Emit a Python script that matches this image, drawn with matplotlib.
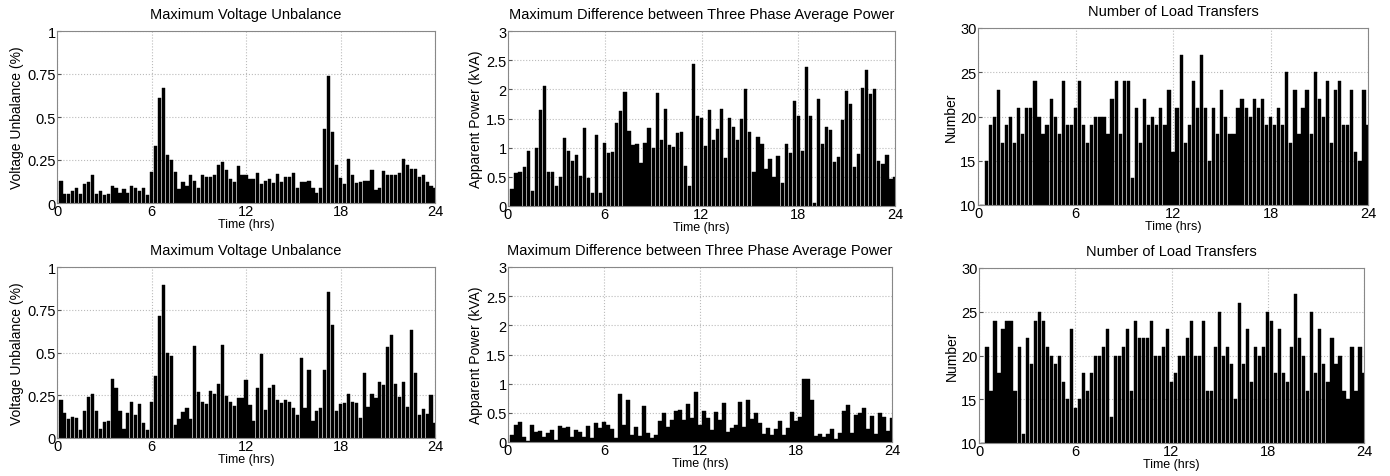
import numpy as np
from matplotlib import pyplot as plt

plt.rcParams['font.family'] = ['Liberation Sans', 'DejaVu Sans']

# 15-minute intervals over one day (96 values per panel)
hours = np.arange(1, 97) * 0.25

# top row
vu_top = [0.13, 0.05, 0.055, 0.07, 0.09, 0.055, 0.11, 0.12, 0.165, 0.055, 0.07, 0.045,
          0.05, 0.10, 0.09, 0.06, 0.08, 0.06, 0.10, 0.09, 0.07, 0.09, 0.045, 0.18,
          0.33, 0.61, 0.67, 0.28, 0.25, 0.18, 0.08, 0.12, 0.10, 0.16, 0.13, 0.09,
          0.16, 0.15, 0.15, 0.165, 0.22, 0.24, 0.19, 0.14, 0.12, 0.215, 0.16, 0.16,
          0.14, 0.14, 0.175, 0.11, 0.13, 0.14, 0.115, 0.17, 0.12, 0.15, 0.15, 0.175,
          0.09, 0.125, 0.12, 0.13, 0.09, 0.06, 0.09, 0.43, 0.74, 0.41, 0.22, 0.145,
          0.11, 0.255, 0.16, 0.115, 0.12, 0.13, 0.13, 0.19, 0.075, 0.09, 0.185, 0.165,
          0.16, 0.165, 0.175, 0.255, 0.22, 0.20, 0.20, 0.15, 0.16, 0.12, 0.10, 0.09]
pw_top = [0.30, 0.57, 0.58, 0.67, 0.94, 0.26, 1.00, 1.65, 2.05, 0.58, 0.58, 0.34,
          0.50, 1.16, 0.94, 0.77, 0.88, 0.51, 1.33, 0.48, 0.22, 1.22, 0.22, 1.08,
          0.91, 0.92, 1.43, 1.63, 1.95, 1.28, 1.05, 1.06, 0.73, 1.08, 1.34, 1.00,
          1.93, 1.14, 1.66, 1.04, 1.02, 1.26, 1.27, 0.69, 0.35, 2.43, 1.55, 1.51,
          1.03, 1.65, 1.14, 1.32, 1.67, 0.82, 1.51, 1.35, 1.13, 1.50, 2.00, 1.27,
          0.58, 1.19, 1.06, 0.63, 0.81, 0.50, 0.85, 0.40, 1.06, 0.91, 1.80, 1.54,
          0.95, 2.38, 1.55, 0.05, 1.83, 1.06, 1.35, 1.31, 0.76, 0.84, 1.47, 1.98,
          1.75, 0.67, 0.90, 2.02, 2.33, 1.92, 2.00, 0.77, 0.72, 0.87, 0.46, 0.49]
lt_top = [10, 15, 19, 20, 23, 17, 19, 20, 17, 21, 18, 21,
          21, 24, 20, 18, 19, 22, 20, 18, 24, 19, 19, 21,
          24, 19, 17, 19, 20, 20, 20, 18, 22, 24, 18, 24,
          24, 13, 21, 17, 22, 19, 20, 19, 21, 19, 23, 16,
          21, 27, 17, 19, 24, 21, 27, 21, 15, 21, 18, 23,
          20, 18, 18, 21, 22, 21, 20, 22, 21, 22, 19, 20,
          19, 21, 19, 25, 17, 23, 18, 21, 23, 18, 25, 22,
          20, 24, 17, 23, 24, 19, 19, 23, 16, 15, 23, 19]

# bottom row
vu_bot = [0.225, 0.145, 0.11, 0.125, 0.115, 0.045, 0.155, 0.24, 0.26, 0.16, 0.05, 0.095,
          0.10, 0.345, 0.29, 0.155, 0.055, 0.145, 0.21, 0.135, 0.20, 0.085, 0.045, 0.21,
          0.365, 0.715, 0.895, 0.495, 0.48, 0.075, 0.11, 0.15, 0.175, 0.11, 0.54, 0.27,
          0.21, 0.20, 0.275, 0.26, 0.315, 0.545, 0.245, 0.21, 0.185, 0.235, 0.235, 0.34,
          0.195, 0.10, 0.29, 0.49, 0.165, 0.295, 0.31, 0.225, 0.205, 0.225, 0.21, 0.175,
          0.135, 0.465, 0.175, 0.395, 0.10, 0.155, 0.175, 0.40, 0.855, 0.66, 0.155, 0.20,
          0.205, 0.255, 0.21, 0.205, 0.115, 0.38, 0.18, 0.255, 0.235, 0.33, 0.31, 0.53,
          0.60, 0.315, 0.24, 0.33, 0.18, 0.63, 0.38, 0.135, 0.17, 0.14, 0.25, 0.09]
pw_bot = [0.12, 0.29, 0.34, 0.08, 0.02, 0.30, 0.17, 0.195, 0.09, 0.16, 0.20, 0.03,
          0.275, 0.235, 0.26, 0.085, 0.205, 0.17, 0.09, 0.28, 0.07, 0.32, 0.245, 0.35,
          0.30, 0.225, 0.075, 0.83, 0.29, 0.72, 0.12, 0.26, 0.11, 0.615, 0.155, 0.075,
          0.125, 0.36, 0.49, 0.26, 0.385, 0.53, 0.545, 0.38, 0.65, 0.41, 0.86, 0.30,
          0.53, 0.42, 0.21, 0.51, 0.38, 0.67, 0.18, 0.245, 0.29, 0.69, 0.26, 0.725,
          0.40, 0.50, 0.33, 0.14, 0.245, 0.115, 0.22, 0.355, 0.115, 0.24, 0.52, 0.355,
          0.435, 1.08, 1.085, 0.72, 0.10, 0.14, 0.08, 0.14, 0.23, 0.06, 0.15, 0.54,
          0.63, 0.15, 0.47, 0.50, 0.59, 0.225, 0.45, 0.13, 0.49, 0.43, 0.19, 0.405]
lt_bot = [10, 21, 16, 24, 18, 23, 24, 24, 16, 21, 11, 22,
          19, 24, 25, 24, 21, 20, 19, 20, 17, 15, 23, 14,
          15, 18, 16, 18, 20, 20, 21, 23, 13, 20, 20, 21,
          23, 16, 24, 22, 22, 22, 24, 20, 20, 21, 23, 17,
          18, 20, 20, 22, 24, 20, 20, 24, 16, 16, 21, 25,
          20, 21, 19, 15, 26, 19, 23, 17, 21, 20, 21, 25,
          24, 18, 23, 18, 17, 21, 27, 22, 20, 16, 25, 18,
          23, 19, 17, 22, 19, 20, 16, 15, 21, 16, 21, 18]

t_vu = 'Maximum Voltage Unbalance'
t_pw = 'Maximum Difference between Three Phase Average Power'
t_lt = 'Number of Load Transfers'

# (data, title, ylabel, ylim, yticks, yticklabels, box in pixels: left, right, top, bottom)
panels = [
    (vu_top, t_vu, 'Voltage Unbalance (%)', (0, 1), [0, 0.25, 0.5, 0.75, 1],
     ['0', '0.25', '0.5', '0.75', '1'], (57, 435, 32, 204)),
    (pw_top, t_pw, 'Apparent Power (kVA)', (0, 3), [0, 0.5, 1, 1.5, 2, 2.5, 3],
     ['0', '0.5', '1', '1.5', '2', '2.5', '3'], (508, 895, 32, 207)),
    (lt_top, t_lt, 'Number', (10, 30), [10, 15, 20, 25, 30],
     ['10', '15', '20', '25', '30'], (978, 1368, 29, 206)),
    (vu_bot, t_vu, 'Voltage Unbalance (%)', (0, 1), [0, 0.25, 0.5, 0.75, 1],
     ['0', '0.25', '0.5', '0.75', '1'], (57, 435, 268, 439)),
    (pw_bot, t_pw, 'Apparent Power (kVA)', (0, 3), [0, 0.5, 1, 1.5, 2, 2.5, 3],
     ['0', '0.5', '1', '1.5', '2', '2.5', '3'], (508, 892, 268, 443)),
    (lt_bot, t_lt, 'Number', (10, 30), [10, 15, 20, 25, 30],
     ['10', '15', '20', '25', '30'], (979, 1364, 269, 444)),
]

W, H = 1390, 477
fig = plt.figure(figsize=(W / 100, H / 100), dpi=100)

for data, title, ylab, ylim, yt, ytl, (l, r, t, b) in panels:
    ax = fig.add_axes([l / W, 1 - b / H, (r - l) / W, (b - t) / H])
    ax.bar(hours, data, width=0.2, color='black', edgecolor='black', linewidth=0.3)
    ax.set_xlim(0, 24)
    ax.set_ylim(*ylim)
    ax.set_xticks([0, 6, 12, 18, 24])
    ax.set_yticks(yt)
    ax.set_yticklabels(ytl)
    ax.tick_params(direction='in', length=3, labelsize=10.5, pad=1, color='#555555')
    ax.grid(True, linestyle=':', color='#bbbbbb', linewidth=0.8)
    ax.set_axisbelow(True)
    for s in ax.spines.values():
        s.set_color('#888888')
        s.set_linewidth(0.8)
    ax.set_title(title, fontsize=10.5, pad=9)
    ax.set_xlabel('Time (hrs)', fontsize=9, labelpad=0)
    ax.set_ylabel(ylab, fontsize=10, labelpad=2)

plt.savefig('out.png', dpi=100)
